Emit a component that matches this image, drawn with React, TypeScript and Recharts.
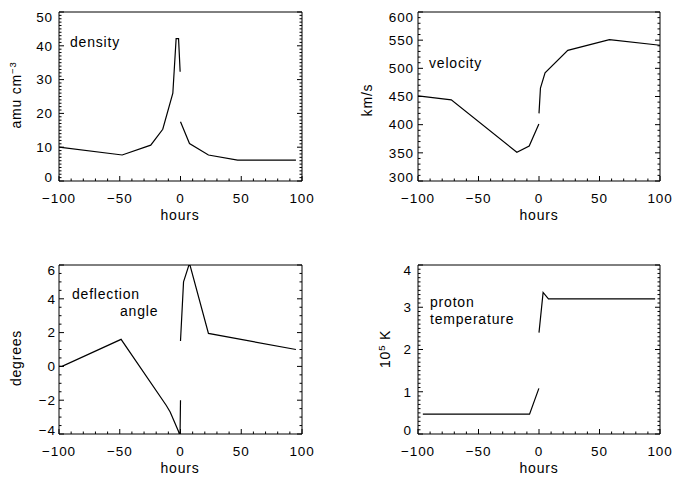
import React from "react";
import { LineChart, Line, XAxis, YAxis } from "recharts";

const FONT = "'Liberation Sans', Arial, sans-serif";
const FS = 13.5;
const TEXT_FS = 14;

// x axis, shared by all four panels
const hourMajors = [-100, -50, 0, 50, 100];

// y axes
const densityMajors = [0, 10, 20, 30, 40, 50];
const velocityMajors = [300, 350, 400, 450, 500, 550, 600];
const angleMajors = [-4, -2, 0, 2, 4, 6];
const tempMajors = [0, 1, 2, 3, 4];

// density (amu cm^-3), before and after the jump at 0 h
const densityPreHours = [-100, -48, -24.5, -14.6, -6.3, -3.6, -1.6, -0.3];
const densityPreValues = [10, 7.7, 10.6, 15.3, 26, 42.1, 42.1, 32.3];
const densityPostHours = [0, 7.4, 23, 47, 95];
const densityPostValues = [17.5, 11.1, 7.7, 6.2, 6.2];

// velocity (km/s)
const velocityPreHours = [-100, -72.5, -18.3, -8.1, -0.1];
const velocityPreValues = [451, 444, 351, 362, 401];
const velocityPostHours = [0, 1.2, 5, 23.8, 58.2, 100];
const velocityPostValues = [420, 465, 492, 532, 551, 541];

// deflection angle (degrees)
const anglePreHours = [-100, -97.5, -48.9, -11.8, -8.5, -1.6, -0.4, 0];
const anglePreValues = [0, 0, 1.6, -2.3, -2.7, -3.85, -4.15, -2.0];
const anglePostHours = [0, 2.5, 7.4, 23, 95];
const anglePostValues = [1.5, 5.0, 6.1, 1.95, 1.0];

// proton temperature (10^5 K)
const tempPreHours = [-96, -7.8, -0.1];
const tempPreValues = [0.47, 0.47, 1.08];
const tempPostHours = [0, 3.4, 7.8, 96];
const tempPostValues = [2.4, 3.35, 3.2, 3.2];

const pts = (xs: number[], ys: number[]) => xs.map((x, i) => ({ x, y: ys[i] }));

const steps = (lo: number, hi: number, step: number) => {
  const out: number[] = [];
  const n = Math.round((hi - lo) / step);
  for (let i = 0; i <= n; i++) out.push(Math.round((lo + i * step) * 1000) / 1000);
  return out;
};

const fmt = (v: number) => (v < 0 ? "\u2212" + Math.abs(v) : String(v));

type Side = "bottom" | "top" | "left" | "right";

function makeTick(side: Side, majors: number[], labels: boolean, lo: number, hi: number, gap = 5) {
  return (p: any) => {
    const v = p.payload.value;
    const major = majors.some((m) => Math.abs(m - v) < 1e-6);
    const len = major ? 5 : 2.5;
    const { x, y } = p;
    let line;
    let label = null;
    if (side === "bottom") {
      line = <line x1={x} x2={x} y1={y} y2={y - len} />;
      if (labels && major)
        label = (
          <text x={x} y={y + 22} textAnchor="middle">
            {fmt(v)}
          </text>
        );
    } else if (side === "top") {
      line = <line x1={x} x2={x} y1={y} y2={y + len} />;
    } else if (side === "left") {
      line = <line x1={x} x2={x + len} y1={y} y2={y} />;
      const dy = Math.abs(v - hi) < 1e-6 ? 5 : Math.abs(v - lo) < 1e-6 ? -4 : 0;
      if (labels && major)
        label = (
          <text x={x - gap} y={y + 4.8 + dy} textAnchor="end">
            {fmt(v)}
          </text>
        );
    } else {
      line = <line x1={x} x2={x - len} y1={y} y2={y} />;
    }
    return (
      <g>
        <g stroke="#000" strokeWidth={1}>{line}</g>
        {label && (
          <g fill="#000" stroke="none" fontFamily={FONT} fontSize={FS} letterSpacing={0.9}>
            {label}
          </g>
        )}
      </g>
    );
  };
}

type PanelProps = {
  pos: [number, number, number, number];
  box: [number, number, number, number];
  yDomain: [number, number];
  yMajors: number[];
  yStep: number;
  series: { x: number; y: number }[][];
  gap: number;
};

function Panel({ pos, box, yDomain, yMajors, yStep, series, gap }: PanelProps) {
  const [px, py, pw, ph] = pos;
  const [bx0, by0, bx1, by1] = box;
  // every axis takes 1px of room, so the margins are one smaller
  const margin = {
    left: bx0 - px - 1,
    top: by0 - py - 1,
    right: px + pw - bx1 - 1,
    bottom: py + ph - by1 - 1,
  };
  const xTicks = steps(-100, 100, 10);
  const yTicks = steps(yDomain[0], yDomain[1], yStep);
  const axisLine = { stroke: "#000", strokeWidth: 1 };
  return (
    <div style={{ position: "absolute", left: px, top: py }}>
      <LineChart width={pw} height={ph} margin={margin}>
        <XAxis
          xAxisId="b"
          type="number"
          dataKey="x"
          domain={[-100, 100]}
          ticks={xTicks}
          interval={0}
          allowDataOverflow
          height={1}
          tickSize={0}
          tickMargin={0}
          tickLine={false}
          axisLine={axisLine}
          tick={makeTick("bottom", hourMajors, true, -100, 100)}
        />
        <XAxis
          xAxisId="t"
          orientation="top"
          type="number"
          domain={[-100, 100]}
          ticks={xTicks}
          interval={0}
          allowDataOverflow
          height={1}
          tickSize={0}
          tickMargin={0}
          tickLine={false}
          axisLine={axisLine}
          tick={makeTick("top", hourMajors, false, -100, 100)}
        />
        <YAxis
          yAxisId="l"
          type="number"
          domain={yDomain}
          ticks={yTicks}
          interval={0}
          allowDataOverflow
          width={1}
          tickSize={0}
          tickMargin={0}
          tickLine={false}
          axisLine={axisLine}
          tick={makeTick("left", yMajors, true, yDomain[0], yDomain[1], gap)}
        />
        <YAxis
          yAxisId="r"
          orientation="right"
          type="number"
          domain={yDomain}
          ticks={yTicks}
          interval={0}
          allowDataOverflow
          width={1}
          tickSize={0}
          tickMargin={0}
          tickLine={false}
          axisLine={axisLine}
          tick={makeTick("right", yMajors, false, yDomain[0], yDomain[1])}
        />
        {series.map((d, i) => (
          <Line
            key={i}
            xAxisId="b"
            yAxisId="l"
            data={d}
            dataKey="y"
            type="linear"
            stroke="#000"
            strokeWidth={1.2}
            dot={false}
            activeDot={false}
            isAnimationActive={false}
          />
        ))}
      </LineChart>
    </div>
  );
}

export default function App() {
  const txt = { fontFamily: FONT, fontSize: TEXT_FS, fill: "#000", letterSpacing: 0.8 } as const;
  return (
    <div style={{ position: "absolute", left: 0, top: 0, width: 673, height: 479, background: "#fff" }}>
      <Panel
        pos={[0, 0, 336, 240]}
        box={[59, 12, 302, 181]}
        yDomain={[0, 50]}
        yMajors={densityMajors}
        yStep={1}
        gap={6}
        series={[pts(densityPreHours, densityPreValues), pts(densityPostHours, densityPostValues)]}
      />
      <Panel
        pos={[336, 0, 337, 240]}
        box={[418, 12, 660, 181]}
        yDomain={[300, 600]}
        yMajors={velocityMajors}
        yStep={10}
        gap={4}
        series={[pts(velocityPreHours, velocityPreValues), pts(velocityPostHours, velocityPostValues)]}
      />
      <Panel
        pos={[0, 240, 336, 239]}
        box={[59, 265, 302, 434]}
        yDomain={[-4, 6]}
        yMajors={angleMajors}
        yStep={0.5}
        gap={3}
        series={[pts(anglePreHours, anglePreValues), pts(anglePostHours, anglePostValues)]}
      />
      <Panel
        pos={[336, 240, 337, 239]}
        box={[418, 265, 660, 434]}
        yDomain={[0, 4]}
        yMajors={tempMajors}
        yStep={0.1}
        gap={6}
        series={[pts(tempPreHours, tempPreValues), pts(tempPostHours, tempPostValues)]}
      />
      <svg
        width={673}
        height={479}
        style={{ position: "absolute", left: 0, top: 0, pointerEvents: "none" }}
      >
        <g {...txt}>
          <text x={70} y={47}>density</text>
          <text x={429} y={68}>velocity</text>
          <text x={72} y={299}>deflection</text>
          <text x={120} y={316}>angle</text>
          <text x={430} y={307}>proton</text>
          <text x={430} y={324}>temperature</text>

          <text x={180} y={220} textAnchor="middle">hours</text>
          <text x={539} y={220} textAnchor="middle">hours</text>
          <text x={180} y={473} textAnchor="middle">hours</text>
          <text x={539} y={473} textAnchor="middle">hours</text>

          <text transform="translate(21,95) rotate(-90)" textAnchor="middle">
            amu cm<tspan dy={-5} fontSize={9.5}>{"\u22123"}</tspan>
          </text>
          <text transform="translate(372,100) rotate(-90)" textAnchor="middle">km/s</text>
          <text transform="translate(21,358) rotate(-90)" textAnchor="middle">degrees</text>
          <text transform="translate(390,349) rotate(-90)" textAnchor="middle">
            10<tspan dy={-5} fontSize={9.5}>5</tspan>
            <tspan dy={5}> K</tspan>
          </text>
        </g>
      </svg>
    </div>
  );
}
